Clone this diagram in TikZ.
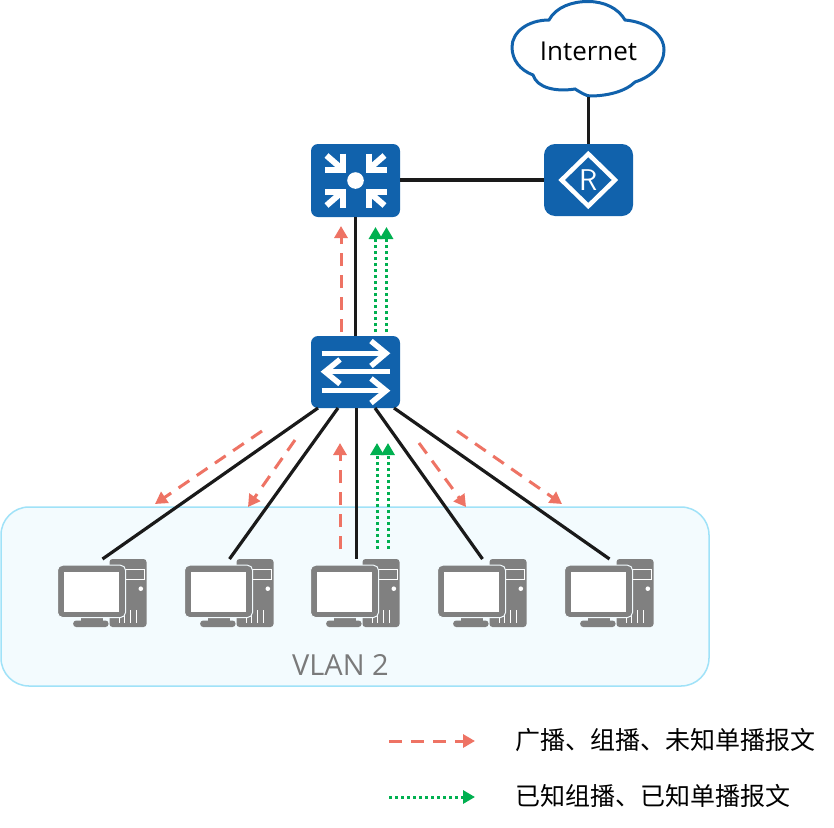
\documentclass[tikz,border=0pt]{standalone}
\usepackage{fontspec}
\setmainfont{Open Sans}
\newfontfamily\cjkfont{Noto Sans CJK SC}
\usetikzlibrary{arrows.meta}
\definecolor{hwblue}{HTML}{1162AC}
\definecolor{linkc}{HTML}{1A1A1A}
\definecolor{redc}{HTML}{EE7364}
\definecolor{greenc}{HTML}{00B050}
\definecolor{iconc}{HTML}{808080}
\definecolor{vlanf}{HTML}{F3FBFE}
\definecolor{vland}{HTML}{A0E2F8}
\tikzset{
  x=1pt,y=-1pt,
  device/.style={fill=hwblue,rounded corners=7pt,minimum width=89pt,inner sep=0pt,outer sep=0pt},
  ghost/.style={inner sep=0pt,outer sep=0pt},
  pcbox/.style={ghost,minimum width=88pt,minimum height=68pt},
  link/.style={draw=linkc,line width=3.2pt},
  redflow/.style={draw=redc,line width=3pt,dash pattern=on 13pt off 9pt,-{Triangle[length=12pt,width=13pt,fill=redc]}},
  greenflow/.style={draw=greenc,line width=3pt,dash pattern=on 3pt off 3pt,-{Triangle[length=12pt,width=13pt,fill=greenc]}},
  iconline/.style={draw=white,line width=5.5pt},
  pcicon/.pic={
    \fill[iconc,rounded corners=3pt] (52,0) rectangle (89,68);
    \draw[white,line width=1pt] (57,10) rectangle (87,20);
    \fill[white] (83.3,29.7) circle (2.3);
    \foreach \vx/\vy in {62/59,67/56,73/51,79/51}
      \draw[white,line width=1.5pt] (\vx,\vy) -- (\vx,64);
    \fill[iconc] (23,56) rectangle (45,62);
    \fill[iconc,rounded corners=3pt] (15.7,68) rectangle (51,61.5);
    \draw[vlanf,line width=1pt,fill=iconc,rounded corners=5pt] (0,6.2) rectangle (68,58.5);
    \fill[white] (6.3,12.7) rectangle (61,52.7);
  }
}
\begin{document}
\begin{tikzpicture}
\useasboundingbox (0,0) rectangle (834,827);
\fill[white] (0,0) rectangle (834,827);
% VLAN box
\draw[draw=vland,fill=vlanf,line width=1.5pt,rounded corners=28pt] (1,507) rectangle (709,686);
\node[ghost,text=iconc!95!black,font=\fontsize{29}{32}\selectfont] (vlan) at (340.5,665) {VLAN 2};
% cloud
\draw[draw=hwblue,fill=white,line width=3pt]
  (549,20) .. controls (556,7) and (572,1.5) .. (588,1.5)
  .. controls (604,1.5) and (618,8) .. (625,20)
  .. controls (647,22) and (664,34) .. (664,50)
  .. controls (664,65) and (651,77) .. (635,82)
  .. controls (625,92) and (606,96) .. (590,96)
  .. controls (586,96) and (580,92) .. (575,89)
  .. controls (556,92) and (537,88) .. (533,75)
  .. controls (520,70) and (512,60) .. (512,47)
  .. controls (512,32) and (528,20) .. (549,20) -- cycle;
\node[ghost,minimum width=152pt,minimum height=92pt,font=\fontsize{26}{30}\selectfont,text=black] (cloud) at (588.5,51) {Internet};
% devices
\node[device,minimum height=73pt] (l3) at (355.5,180.5) {};
\node[device,rounded corners=11pt,minimum height=72pt] (rt) at (588.5,180) {};
\node[device,minimum height=72pt] (sw) at (355.5,372) {};
% PCs
\node[pcbox] (pc1) at (102.5,593) {};
\node[pcbox] (pc2) at (229.5,593) {};
\node[pcbox] (pc3) at (355.5,593) {};
\node[pcbox] (pc4) at (482.5,593) {};
\node[pcbox] (pc5) at (609.5,593) {};
\foreach \px in {57.5,184.5,310.5,437.5,564.5} \pic at (\px,559) {pcicon};
% named switch ports
\coordinate (s1) at (318,408);
\coordinate (s2) at (338,408);
\coordinate (s3) at (356.5,408);
\coordinate (s4) at (375,408);
\coordinate (s5) at (394,408);
% links
\draw[link] (l3.south) -- (sw.north);
\draw[link] (l3.east |- rt.west) -- (rt.west);
\draw[link] (cloud.south) -- (rt.north);
\draw[link] (s1) -- (pc1.north);
\draw[link] (s2) -- (pc2.north);
\draw[link] (s3) -- (s3 |- pc3.north);
\draw[link] (s4) -- (pc4.north);
\draw[link] (s5) -- (pc5.north);
% L3 switch icon
\fill[white] (355.5,180.5) circle (8.3);
\foreach \sx/\sy in {-1/-1,1/-1,-1/1,1/1}{
  \begin{scope}[shift={(355.5,180.5)},xscale=\sx,yscale=\sy]
    \draw[iconline,line width=6pt,miter limit=10] (13,27) -- (13,11) -- (31,11);
    \draw[iconline,line width=6pt] (29,25) -- (14,12);
  \end{scope}
}
% switch icon
\draw[iconline] (321.5,353.3) -- (385,353.3);
\draw[iconline] (371,341) -- (386,353.3) -- (371,366);
\draw[iconline] (390,371.7) -- (326,371.7);
\draw[iconline] (340,359.5) -- (325,371.7) -- (340,384);
\draw[iconline] (321.5,390.7) -- (385,390.7);
\draw[iconline] (371,378.5) -- (386,390.7) -- (371,403);
% router icon
\draw[draw=white,line width=4.5pt,miter limit=10] (588.3,154) -- (615,180) -- (588.3,206) -- (561.6,180) -- cycle;
\node[ghost,text=white,font=\fontsize{30}{32}\selectfont\sffamily] (rtlabel) at (588.3,180) {R};
% flows
\coordinate (a1s) at (341,332); \coordinate (a1e) at (341,226);
\coordinate (a2s) at (375.5,332); \coordinate (a2e) at (375.5,227);
\coordinate (a3s) at (386.5,332); \coordinate (a3e) at (386.5,227);
\draw[redflow] (a1s) -- (a1e);
\draw[greenflow] (a2s) -- (a2e);
\draw[greenflow] (a3s) -- (a3e);
\coordinate (b1s) at (262,431); \coordinate (b1e) at (155,504);
\coordinate (b2s) at (295,440); \coordinate (b2e) at (248,507);
\coordinate (b3s) at (340,549); \coordinate (b3e) at (340,443);
\coordinate (b4s) at (419,443); \coordinate (b4e) at (466,507);
\coordinate (b5s) at (457,431); \coordinate (b5e) at (562,504);
\coordinate (c1s) at (377,549); \coordinate (c1e) at (377,443);
\coordinate (c2s) at (388,549); \coordinate (c2e) at (388,443);
\draw[redflow] (b1s) -- (b1e);
\draw[redflow] (b2s) -- (b2e);
\draw[redflow] (b3s) -- (b3e);
\draw[redflow] (b4s) -- (b4e);
\draw[redflow] (b5s) -- (b5e);
\draw[greenflow] (c1s) -- (c1e);
\draw[greenflow] (c2s) -- (c2e);
% legend
\coordinate (l1s) at (389,741); \coordinate (l1e) at (475,741);
\coordinate (l2s) at (389,797); \coordinate (l2e) at (475,797);
\draw[redflow] (l1s) -- (l1e);
\draw[greenflow] (l2s) -- (l2e);
\node[ghost,anchor=west,font=\cjkfont\fontsize{25}{28}\selectfont] (t1) at (515,740) {广播、组播、未知单播报文};
\node[ghost,anchor=west,font=\cjkfont\fontsize{25}{28}\selectfont] (t2) at (515,796) {已知组播、已知单播报文};
\end{tikzpicture}
\end{document}
